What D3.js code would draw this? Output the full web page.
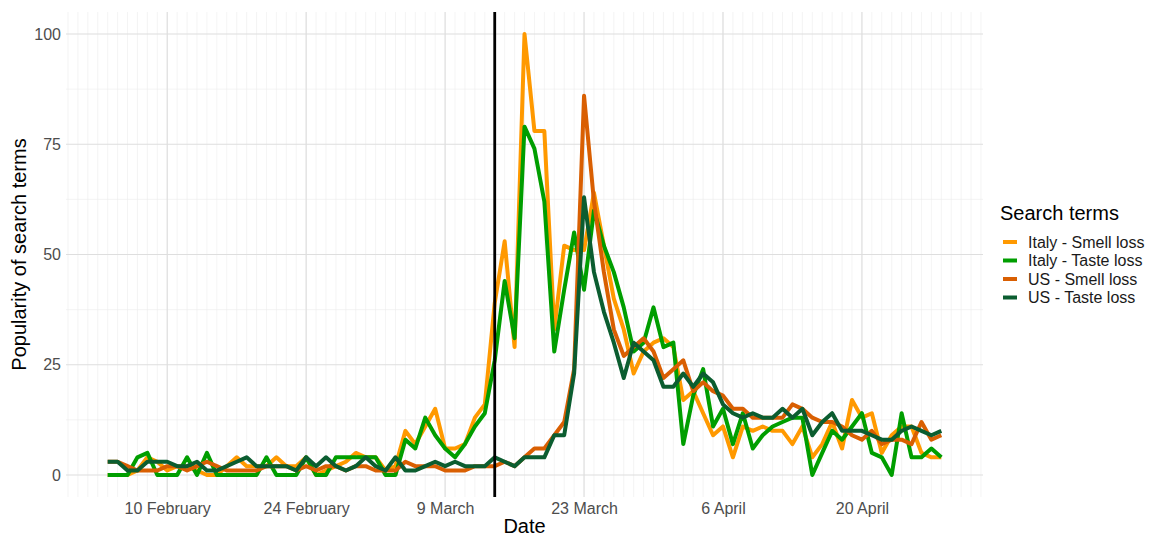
<!DOCTYPE html>
<html>
<head>
<meta charset="utf-8">
<script src="https://cdn.jsdelivr.net/npm/d3@7"></script>
<style>
  body { margin: 0; background: #fff; }
  text { font-family: "Liberation Sans", Arial, sans-serif; }
</style>
</head>
<body>
<svg width="1151" height="537"></svg>
<script>
// daily values from 4 Feb 2020 to 28 Apr 2020
var startDate = '2020-02-04'
var seriesNames = ['Italy - Smell loss', 'Italy - Taste loss', 'US - Smell loss', 'US - Taste loss']
var seriesColors = ['#FF9900', '#009E00', '#D95F02', '#0B5D30']

var italySmell = [0,0,0,1,4,3,1,2,2,1, 0,0,2,4,2,2,2,4,2,2,
                  4,0,1,2,3,5,4,4,1,2, 10,7,11,15,6,6,7,13,16,39,
                  53,29,100,78,78,33,52,51,51,64, 52,40,33,23,28,30,31,29,17,19,
                  14,9,11,4,11,10,11,10,10,7, 11,4,7,12,6,17,13,14,5,9,
                  11,11,5,4,4]
var italyTaste = [0,0,0,4,5,0,0,0,4,0, 5,0,0,0,0,0,4,0,0,0,
                  4,0,0,4,4,4,4,4,0,0, 8,6,13,9,6,4,7,11,14,26,
                  44,31,79,74,62,28,42,55,42,60, 52,46,38,28,30,38,29,30,7,18,
                  24,11,15,7,14,6,9,11,12,13, 13,0,5,10,8,11,14,5,4,0,
                  14,4,4,6,4]
var usSmell = [3,3,2,1,1,1,2,2,1,2, 3,2,1,1,1,1,2,2,2,1,
               2,1,2,2,1,2,2,1,1,1, 3,2,2,2,1,1,1,2,2,2,
               3,2,4,6,6,9,12,24,86,62, 46,33,27,29,31,28,22,24,26,19,
               21,19,18,15,15,13,13,13,13,16, 15,13,12,12,11,9,8,10,7,8,
               8,7,12,8,9]
var usTaste = [3,3,1,1,3,3,3,2,2,3, 1,1,2,3,4,2,2,2,2,1,
               4,2,4,2,1,2,4,2,1,4, 1,1,2,3,2,3,2,2,2,4,
               3,2,4,4,4,9,9,23,63,46, 37,30,22,30,28,26,20,20,23,20,
               23,21,16,14,13,14,13,13,15,13, 15,9,12,14,10,10,10,9,8,8,
               10,11,10,9,10]

var xTicks = ['2020-02-10', '2020-02-24', '2020-03-09', '2020-03-23', '2020-04-06', '2020-04-20']
var xTickLabels = ['10 February', '24 February', '9 March', '23 March', '6 April', '20 April']
var yTicks = [0, 25, 50, 75, 100]
var markerDate = '2020-03-14'

var parse = d3.timeParse('%Y-%m-%d')
var allSeries = [italySmell, italyTaste, usSmell, usTaste]
var dates = italySmell.map(function(d, i){ return d3.timeDay.offset(parse(startDate), i) })

var svg = d3.select('svg')
// panel edges (not "top": window.top is read only)
var pLeft = 66, pRight = 983, pTop = 12, pBottom = 497

// 5% padding like ggplot
var x0 = dates[0], x1 = dates[dates.length - 1]
var pad = (x1 - x0) * 0.05
var x = d3.scaleTime()
          .domain([new Date(+x0 - pad), new Date(+x1 + pad)])
          .range([pLeft, pRight])
var y = d3.scaleLinear()
          .domain([-5, 105])
          .range([pBottom, pTop])

// minor grid: every day and half way between y ticks
var minorDays = d3.timeDay.range(d3.timeDay.ceil(x.domain()[0]), x.domain()[1])
svg.append('g').selectAll('line')
   .data(minorDays)
   .enter().append('line')
   .attr('x1', function(d){ return x(d) }).attr('x2', function(d){ return x(d) })
   .attr('y1', pTop).attr('y2', pBottom)
   .attr('stroke', '#EDEDED').attr('stroke-width', 0.6)
svg.append('g').selectAll('line')
   .data([12.5, 37.5, 62.5, 87.5])
   .enter().append('line')
   .attr('x1', pLeft).attr('x2', pRight)
   .attr('y1', function(d){ return y(d) }).attr('y2', function(d){ return y(d) })
   .attr('stroke', '#EDEDED').attr('stroke-width', 0.6)

// major grid
svg.append('g').selectAll('line')
   .data(xTicks)
   .enter().append('line')
   .attr('x1', function(d){ return x(parse(d)) }).attr('x2', function(d){ return x(parse(d)) })
   .attr('y1', pTop).attr('y2', pBottom)
   .attr('stroke', '#DEDEDE').attr('stroke-width', 1.1)
svg.append('g').selectAll('line')
   .data(yTicks)
   .enter().append('line')
   .attr('x1', pLeft).attr('x2', pRight)
   .attr('y1', function(d){ return y(d) }).attr('y2', function(d){ return y(d) })
   .attr('stroke', '#DEDEDE').attr('stroke-width', 1.1)

// axes, ggplot minimal style (no lines, only labels)
svg.append('g')
   .attr('transform', 'translate(0,' + pBottom + ')')
   .call(d3.axisBottom(x)
           .tickValues(xTicks.map(parse))
           .tickFormat(function(d, i){ return xTickLabels[i] })
           .tickSize(0).tickPadding(6))
svg.append('g')
   .attr('transform', 'translate(' + pLeft + ',0)')
   .call(d3.axisLeft(y).tickValues(yTicks).tickSize(0).tickPadding(5))
svg.selectAll('.domain').remove()
svg.selectAll('.tick text')
   .attr('fill', '#4D4D4D')
   .style('font-size', '16px')
   .style('font-family', '"Liberation Sans", Arial, sans-serif')

// series lines
var line = d3.line()
             .x(function(d, i){ return x(dates[i]) })
             .y(function(d){ return y(d) })
svg.append('g').selectAll('path')
   .data(allSeries)
   .enter().append('path')
   .attr('d', line)
   .attr('fill', 'none')
   .attr('stroke', function(d, i){ return seriesColors[i] })
   .attr('stroke-width', 4)
   .attr('stroke-linejoin', 'round')

// vertical marker
svg.append('line')
   .attr('x1', x(parse(markerDate))).attr('x2', x(parse(markerDate)))
   .attr('y1', pTop).attr('y2', pBottom)
   .attr('stroke', '#000').attr('stroke-width', 2.8)

// axis titles
svg.append('text')
   .attr('x', (pLeft + pRight) / 2).attr('y', 533)
   .attr('text-anchor', 'middle')
   .style('font-size', '20px')
   .text('Date')
svg.append('text')
   .attr('transform', 'translate(26,' + ((pTop + pBottom) / 2) + ') rotate(-90)')
   .attr('text-anchor', 'middle')
   .style('font-size', '20px')
   .text('Popularity of search terms')

// legend
var legend = svg.append('g').attr('transform', 'translate(1000,0)')
legend.append('text')
      .attr('x', 0).attr('y', 220)
      .style('font-size', '20px')
      .text('Search terms')
var items = legend.selectAll('g.item')
      .data(seriesNames)
      .enter().append('g')
      .attr('class', 'item')
      .attr('transform', function(d, i){ return 'translate(0,' + (242 + i * 18.5) + ')' })
items.append('line')
     .attr('x1', 3).attr('x2', 17)
     .attr('stroke', function(d, i){ return seriesColors[i] })
     .attr('stroke-width', 4)
items.append('text')
     .attr('x', 28).attr('y', 5.5)
     .style('font-size', '16px')
     .attr('fill', '#1A1A1A')
     .text(function(d){ return d })
</script>
</body>
</html>
